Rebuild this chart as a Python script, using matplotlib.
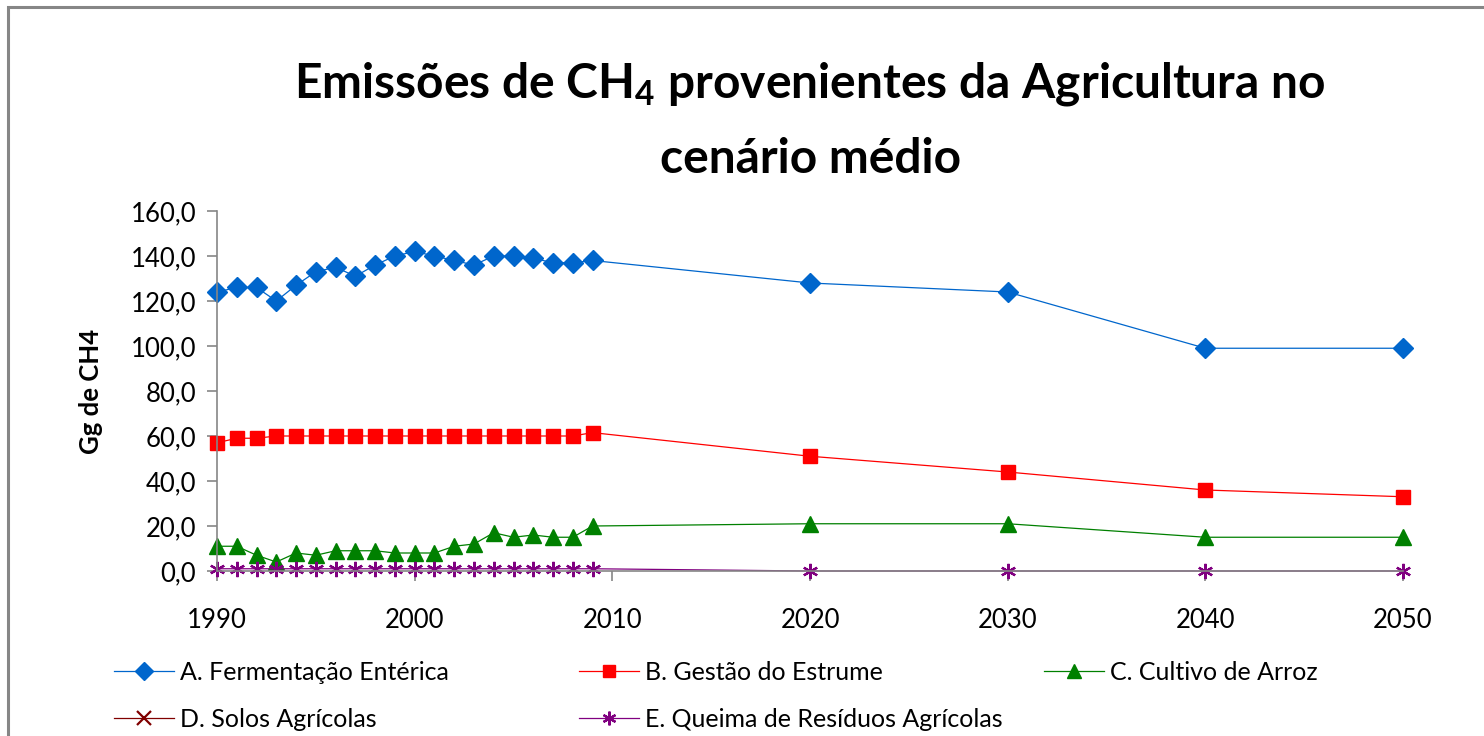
import numpy as np
import matplotlib
matplotlib.use("Agg")
import matplotlib.pyplot as plt
from matplotlib.patches import Rectangle
from matplotlib.ticker import FuncFormatter

plt.rcParams['font.family'] = ['Lato', 'DejaVu Sans']
plt.rcParams['mathtext.fontset'] = 'custom'
plt.rcParams['mathtext.rm'] = 'Lato'
plt.rcParams['mathtext.bf'] = 'Lato:bold'

# data
years = list(range(1990, 2010)) + [2020, 2030, 2040, 2050]
fermentacao = [124, 126, 126, 120, 127, 133, 135, 131, 136, 140,
               142, 140, 138, 136, 140, 140, 139, 137, 137, 138,
               128, 124, 99, 99]
estrume = [57, 59, 59, 60, 60, 60, 60, 60, 60, 60,
           60, 60, 60, 60, 60, 60, 60, 60, 60, 61.5,
           51, 44, 36, 33]
arroz = [11, 11, 7, 4, 8, 7, 9, 9, 9, 8,
         8, 8, 11, 12, 17, 15, 16, 15, 15, 20,
         21, 21, 15, 15]
solos = [np.nan] * len(years)
queima = [1.0] * 20 + [0.0, 0.0, 0.0, 0.0]

labels = ['A. Fermentação Entérica', 'B. Gestão do Estrume', 'C. Cultivo de Arroz',
          'D. Solos Agrícolas', 'E. Queima de Resíduos Agrícolas']
colors = ['#0066CC', '#FF0000', '#008000', '#800000', '#800080']
markers = ['D', 's', '^', 'x', (6, 2, 0)]
sizes = [10, 10, 11, 11, 11]
series = [fermentacao, estrume, arroz, solos, queima]

fig = plt.figure(figsize=(14.84, 7.36), dpi=100)
fig.patches.append(Rectangle((8 / 1484, -0.1), 1.2, 1 - 7 / 736 + 0.1,
                             transform=fig.transFigure, fill=False,
                             edgecolor='#868686', lw=2.2))

ax = fig.add_axes([217 / 1484, 1 - 571 / 736, (1403 - 217) / 1484, (571 - 211) / 736])

handles = []
for vals, lab, c, m, s in zip(series, labels, colors, markers, sizes):
    mew = 1.6 if m in ('x', (6, 2, 0)) else 1
    h, = ax.plot(years, vals, color=c, lw=0.9, marker=m, markersize=s,
                 markeredgewidth=mew, markerfacecolor=c, markeredgecolor=c,
                 label=lab, clip_on=False)
    handles.append(h)

ax.set_xlim(1990, 2050)
ax.set_ylim(0, 160)
ax.set_xticks(range(1990, 2051, 10))
ax.set_yticks(range(0, 161, 20))
ax.yaxis.set_major_formatter(FuncFormatter(lambda v, p: f"{v:.1f}".replace('.', ',')))
for side in ('top', 'right'):
    ax.spines[side].set_visible(False)
for side in ('left', 'bottom'):
    ax.spines[side].set_color('#868686')
    ax.spines[side].set_linewidth(1.2)
ax.tick_params(axis='both', colors='#868686', length=7, width=1.2, labelsize=18.5,
               labelcolor='black', direction='out')
ax.tick_params(axis='y', pad=8)
ax.tick_params(axis='x', pad=20)
ax.set_ylabel('Gg de CH4', fontsize=18.5, fontweight='bold', labelpad=20)

fig.text(0.546, 0.886, r'Emissões de CH$_\mathbf{4}$ provenientes da Agricultura no',
         ha='center', va='center', fontsize=34.5, fontweight='bold')
fig.text(0.546, 0.784, 'cenário médio', ha='center', va='center',
         fontsize=34.5, fontweight='bold')

# legend, three columns of equal width like the source
cols = [[0, 3], [1, 4], [2]]
xs = [114 / 1484, 579 / 1484, 1044 / 1484]
for x, idx in zip(xs, cols):
    fig.legend([handles[i] for i in idx], [labels[i] for i in idx],
               loc='upper left', bbox_to_anchor=(x, 1 - 661 / 736),
               frameon=False, fontsize=18, handlelength=2.4,
               handletextpad=0.25, labelspacing=0.95, borderaxespad=0,
               borderpad=0, markerscale=0.9)

fig.savefig('out.png', dpi=100)
